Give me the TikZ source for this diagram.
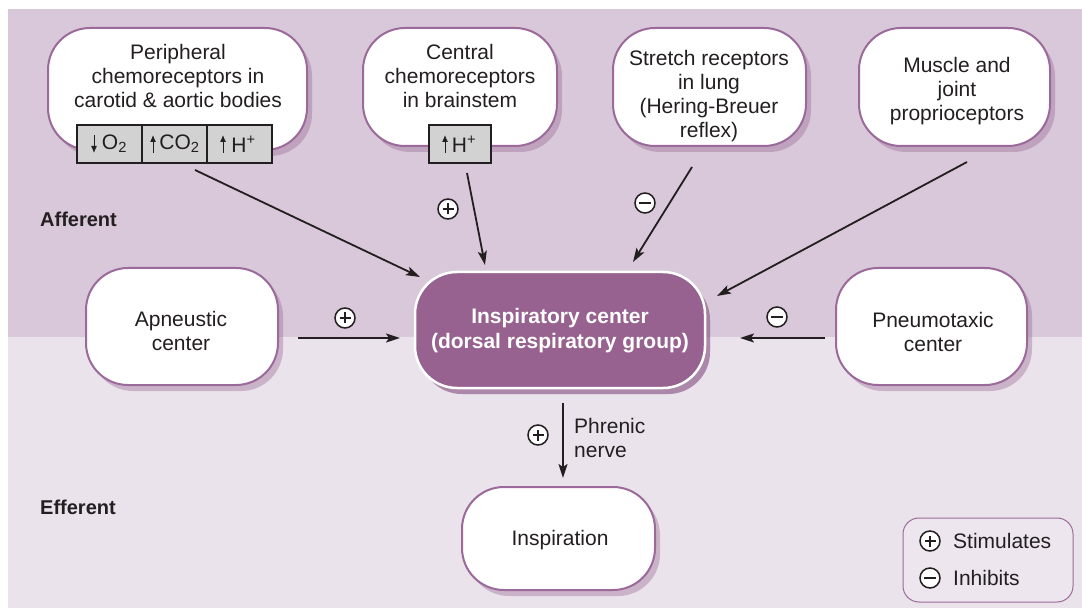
\documentclass[tikz,border=0pt]{standalone}
\usepackage{fontspec}
\setmainfont{Liberation Sans}
\usetikzlibrary{arrows.meta,shadows}
\definecolor{bgtop}{HTML}{D8C8D9}
\definecolor{bgbot}{HTML}{EBE3EB}
\definecolor{bord}{HTML}{9B6A9A}
\definecolor{inspfill}{HTML}{97628F}
\definecolor{shade}{HTML}{8E5C8C}
\definecolor{cellfill}{HTML}{D2D2D2}
\definecolor{ink}{HTML}{231F20}
\definecolor{legfill}{HTML}{EEE6EE}
\begin{document}
\begin{tikzpicture}[x=1pt,y=-1pt,
  txt/.style={font=\fontsize{21}{24}\selectfont, text=ink, align=center, inner sep=0pt},
  bubble/.style={draw=bord, line width=2pt, fill=white, rounded corners=42pt, inner sep=0pt,
    drop shadow={shadow xshift=5pt, shadow yshift=-6pt, fill=shade, opacity=0.35}},
  cell/.style={draw=ink, line width=1.5pt, fill=cellfill, minimum height=38pt, inner sep=0pt,
    font=\fontsize{21}{24}\selectfont, text=ink},
  sign/.style={circle, draw=ink, line width=1.5pt, fill=white, minimum size=20pt, inner sep=0pt},
  plussign/.style={sign, path picture={
    \draw[line width=1.5pt, draw=ink] ([xshift=-5.5pt]path picture bounding box.center) -- ([xshift=5.5pt]path picture bounding box.center);
    \draw[line width=1.5pt, draw=ink] ([yshift=-5.5pt]path picture bounding box.center) -- ([yshift=5.5pt]path picture bounding box.center);}},
  minussign/.style={sign, path picture={
    \draw[line width=1.5pt, draw=ink] ([xshift=-6pt]path picture bounding box.center) -- ([xshift=6pt]path picture bounding box.center);}},
  conn/.style={line width=1.8pt, draw=ink, -{Stealth[length=14pt, width=9pt, inset=3pt]}},
  glyph/.style={line width=1pt, draw=ink, -{Latex[length=7pt, width=6pt]}},
  side/.style={font=\fontsize{20}{24}\selectfont\bfseries, text=ink, anchor=west, inner sep=0pt}]
\useasboundingbox (0,0) rectangle (1082,612);
\fill[bgtop] (8,9) rectangle (1082,337);
\fill[bgbot] (8,337) rectangle (1082,608);

% top bubbles
\node[bubble, minimum width=259pt, minimum height=122pt] (peri) at (177.5,89) {};
\node[txt] (perit) at (178,76) {Peripheral\\chemoreceptors in\\carotid \& aortic bodies};
\node[bubble, minimum width=194pt, minimum height=118pt] (cent) at (460,87) {};
\node[txt] (centt) at (460,76) {Central\\chemoreceptors\\in brainstem};
\node[bubble, minimum width=193pt, minimum height=118pt] (stre) at (709.5,87) {};
\node[txt] (stret) at (709,96) {Stretch receptors\\in lung\\(Hering-Breuer\\reflex)};
\node[bubble, minimum width=191pt, minimum height=118pt] (musc) at (954.5,87) {};
\node[txt] (musct) at (957,91) {Muscle and\\joint\\proprioceptors};

% cells
\node[cell, minimum width=65pt] (o2) at (109.5,144) {\hspace{10pt}O\textsubscript{2}};
\node[cell, minimum width=65pt] (co2) at (174.5,144) {\hspace{10pt}CO\textsubscript{2}};
\node[cell, minimum width=65pt] (hp) at (239.5,144) {\hspace{8pt}H\textsuperscript{+}};
\node[cell, minimum width=62pt] (hc) at (460,144) {\hspace{8pt}H\textsuperscript{+}};
\draw[glyph] (94,135) -- (94,153);
\draw[glyph] (153,153) -- (153,135);
\draw[glyph] (223,153) -- (223,135);
\draw[glyph] (445,153) -- (445,135);

% middle row
\node[bubble, minimum width=192pt, minimum height=117pt] (apn) at (182,326.5) {};
\node[txt] (apnt) at (181,331) {Apneustic\\center};
\node[bubble, draw=white, line width=2.5pt, fill=inspfill, minimum width=290pt, minimum height=116pt,
  drop shadow={shadow xshift=5pt, shadow yshift=-6pt, fill=shade, opacity=0.5}] (insp) at (560,330) {};
\node[txt, text=white, font=\fontsize{21}{25}\selectfont\bfseries] (inspt) at (560,330.5) {Inspiratory center\\(dorsal respiratory group)};
\node[bubble, minimum width=191pt, minimum height=117pt] (pne) at (931.5,326.5) {};
\node[txt] (pnet) at (933,332) {Pneumotaxic\\center};

% bottom
\node[bubble, minimum width=193pt, minimum height=103pt] (insn) at (558.5,538.5) {};
\node[txt] (insnt) at (560,540) {Inspiration};

% side labels
\node[side] (aff) at (40,219) {Afferent};
\node[side] (eff) at (40,507) {Efferent};

% connector end points
\coordinate (s1) at (195,170); \coordinate (e1) at (420,277);
\coordinate (s2) at (467,173); \coordinate (e2) at (485,265);
\coordinate (s3) at (692,167); \coordinate (e3) at (633,262);
\coordinate (s4) at (967,162); \coordinate (e4) at (717,296);
\coordinate (s5) at (298,338); \coordinate (e5) at (400,338);
\coordinate (s6) at (825,338); \coordinate (e6) at (740,338);
\coordinate (s7) at (563,403); \coordinate (e7) at (563,478);
\draw[conn] (s1) -- (e1);
\draw[conn] (s2) -- (e2);
\draw[conn] (s3) -- (e3);
\draw[conn] (s4) -- (e4);
\draw[conn] (s5) -- (e5);
\draw[conn] (s6) -- (e6);
\draw[conn] (s7) -- (e7);

% signs
\node[plussign] (p1) at (448,209) {};
\node[minussign] (m1) at (645,203) {};
\node[plussign] (p2) at (345,318) {};
\node[minussign] (m2) at (777,317) {};
\node[plussign] (p3) at (538,435) {};
\node[txt, align=left, anchor=west] (phr) at (574,438) {Phrenic\\nerve};

% legend
\node[draw=bord, line width=1pt, fill=legfill, rounded corners=16pt, minimum width=170pt, minimum height=84pt] (leg) at (988,560) {};
\node[plussign] (lp) at (930,541) {};
\node[minussign] (lm) at (930,578) {};
\node[txt, anchor=west] (lpt) at (953,541) {Stimulates};
\node[txt, anchor=west] (lmt) at (953,578) {Inhibits};
\end{tikzpicture}
\end{document}
